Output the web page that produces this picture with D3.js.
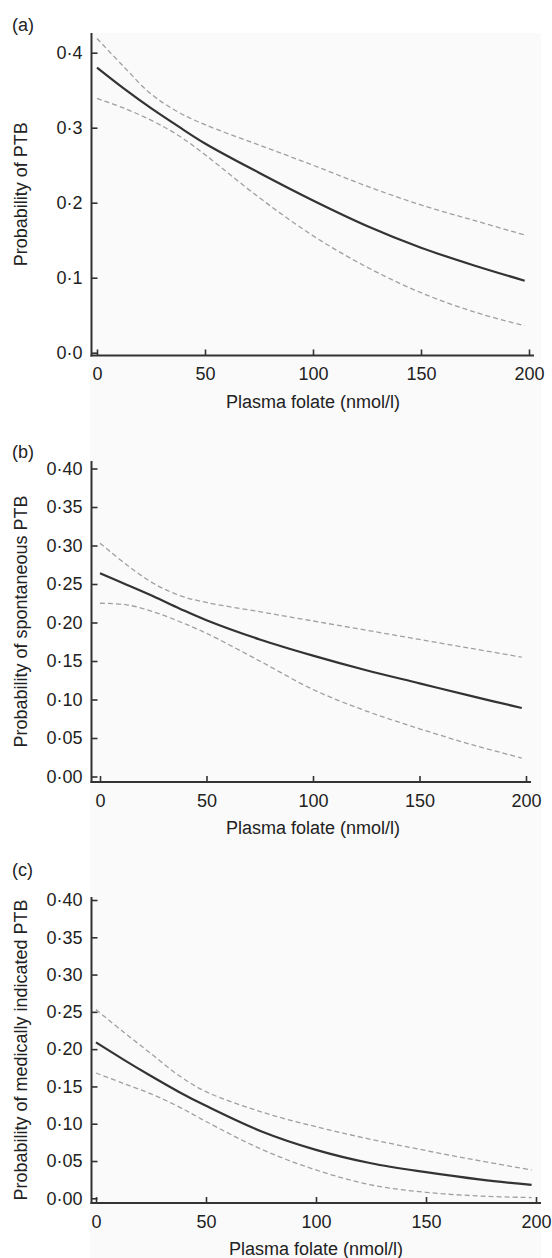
<!DOCTYPE html>
<html>
<head>
<meta charset="utf-8">
<script src="https://cdn.jsdelivr.net/npm/d3@7"></script>
<style>
  body { margin: 0; background: #fff; }
  text { font-family: "Liberation Sans", Arial, sans-serif; fill: #222; }
</style>
</head>
<body>
<svg id="chart" width="552" height="1258"></svg>
<script>
const folate = [0, 12.5, 25, 37.5, 50, 75, 100, 125, 150, 175, 198];

// (a) all PTB
const ptbFit   = [0.380, 0.352, 0.326, 0.302, 0.279, 0.240, 0.203, 0.169, 0.140, 0.116, 0.096];
const ptbUpper = [0.419, 0.381, 0.345, 0.321, 0.304, 0.277, 0.250, 0.222, 0.197, 0.176, 0.157];
const ptbLower = [0.339, 0.326, 0.310, 0.290, 0.264, 0.207, 0.156, 0.114, 0.080, 0.054, 0.036];

// (b) spontaneous PTB
const sponFit   = [0.264, 0.249, 0.234, 0.218, 0.203, 0.178, 0.157, 0.138, 0.121, 0.104, 0.089];
const sponUpper = [0.303, 0.275, 0.251, 0.235, 0.226, 0.214, 0.202, 0.190, 0.178, 0.166, 0.155];
const sponLower = [0.225, 0.223, 0.214, 0.201, 0.186, 0.150, 0.113, 0.085, 0.062, 0.041, 0.024];

// (c) medically indicated PTB
const medFit   = [0.209, 0.186, 0.164, 0.143, 0.124, 0.090, 0.065, 0.047, 0.035, 0.025, 0.018];
const medUpper = [0.253, 0.223, 0.194, 0.165, 0.143, 0.116, 0.096, 0.079, 0.064, 0.050, 0.038];
const medLower = [0.168, 0.154, 0.140, 0.123, 0.103, 0.066, 0.038, 0.018, 0.008, 0.003, 0.001];

const xTicks = [0, 50, 100, 150, 200];
const yTicksA = [0, 0.1, 0.2, 0.3, 0.4];
const yTicksBC = [0, 0.05, 0.1, 0.15, 0.2, 0.25, 0.3, 0.35, 0.4];

const svg = d3.select("#chart");

// faint grey backdrop of the original figure
svg.append("rect").attr("x", 90).attr("y", 33).attr("width", 451).attr("height", 1225).attr("fill", "#fafafa");

const panels = [
  { tag: "(a)", title: "Probability of PTB", fit: ptbFit, upper: ptbUpper, lower: ptbLower,
    ticks: yTicksA, fmt: ".1f", x0: 97, x1: 529, y0: 352.7, y1: 52.7, top: 33, axisX: 91.5, axisY: 355.5, tagY: 31 },
  { tag: "(b)", title: "Probability of spontaneous PTB", fit: sponFit, upper: sponUpper, lower: sponLower,
    ticks: yTicksBC, fmt: ".2f", x0: 100, x1: 526, y0: 776.5, y1: 468.5, top: 461, axisX: 91.5, axisY: 782, tagY: 458 },
  { tag: "(c)", title: "Probability of medically indicated PTB", fit: medFit, upper: medUpper, lower: medLower,
    ticks: yTicksBC, fmt: ".2f", x0: 96, x1: 536, y0: 1198.3, y1: 900, top: 897, axisX: 91.5, axisY: 1203, tagY: 876 }
];

panels.forEach(p => {
  const x = d3.scaleLinear().domain([0, 200]).range([p.x0, p.x1]);
  const y = d3.scaleLinear().domain([0, 0.4]).range([p.y0, p.y1]);
  const g = svg.append("g");
  const dot = d3.format(p.fmt);

  // y axis, ticks pointing inwards
  const ya = g.append("g").attr("transform", "translate(" + p.axisX + ",0)")
    .call(d3.axisLeft(y).tickValues(p.ticks).tickSize(-6).tickPadding(9).tickSizeOuter(0)
      .tickFormat(d => dot(d).replace(".", "\u00b7")));
  ya.select(".domain").remove();
  ya.selectAll(".tick line").attr("stroke", "#333").attr("stroke-width", 1.6);
  ya.selectAll("text").style("font-size", "18px").attr("fill", "#222");

  // x axis
  const xa = g.append("g").attr("transform", "translate(0," + p.axisY + ")")
    .call(d3.axisBottom(x).tickValues(xTicks).tickSize(-6).tickPadding(12).tickSizeOuter(0));
  xa.select(".domain").remove();
  xa.selectAll(".tick line").attr("stroke", "#333").attr("stroke-width", 1.6);
  xa.selectAll("text").style("font-size", "18px").attr("fill", "#222");

  g.append("line").attr("x1", p.axisX).attr("x2", p.axisX).attr("y1", p.top).attr("y2", p.axisY + 1)
    .attr("stroke", "#333").attr("stroke-width", 2);
  g.append("line").attr("x1", p.axisX - 1).attr("x2", x(200) + 5).attr("y1", p.axisY).attr("y2", p.axisY)
    .attr("stroke", "#333").attr("stroke-width", 2);

  const line = d3.line().x((d, i) => x(folate[i])).y(d => y(d)).curve(d3.curveCatmullRom);

  [p.upper, p.lower].forEach(s => {
    g.append("path").datum(s).attr("d", line).attr("fill", "none")
      .attr("stroke", "#a0a0a0").attr("stroke-width", 1.3).attr("stroke-dasharray", "5,3");
  });
  g.append("path").datum(p.fit).attr("d", line).attr("fill", "none")
    .attr("stroke", "#333").attr("stroke-width", 2.2);

  // labels
  g.append("text").attr("x", 12).attr("y", p.tagY).style("font-size", "18px").text(p.tag);
  g.append("text").attr("x", (p.x0 + p.x1) / 2).attr("y", p.axisY + 52)
    .attr("text-anchor", "middle").style("font-size", "18px").text("Plasma folate (nmol/l)");
  g.append("text").attr("transform", "translate(27," + ((p.top + p.axisY) / 2) + ") rotate(-90)")
    .attr("text-anchor", "middle").style("font-size", "18px").text(p.title);
});
</script>
</body>
</html>
